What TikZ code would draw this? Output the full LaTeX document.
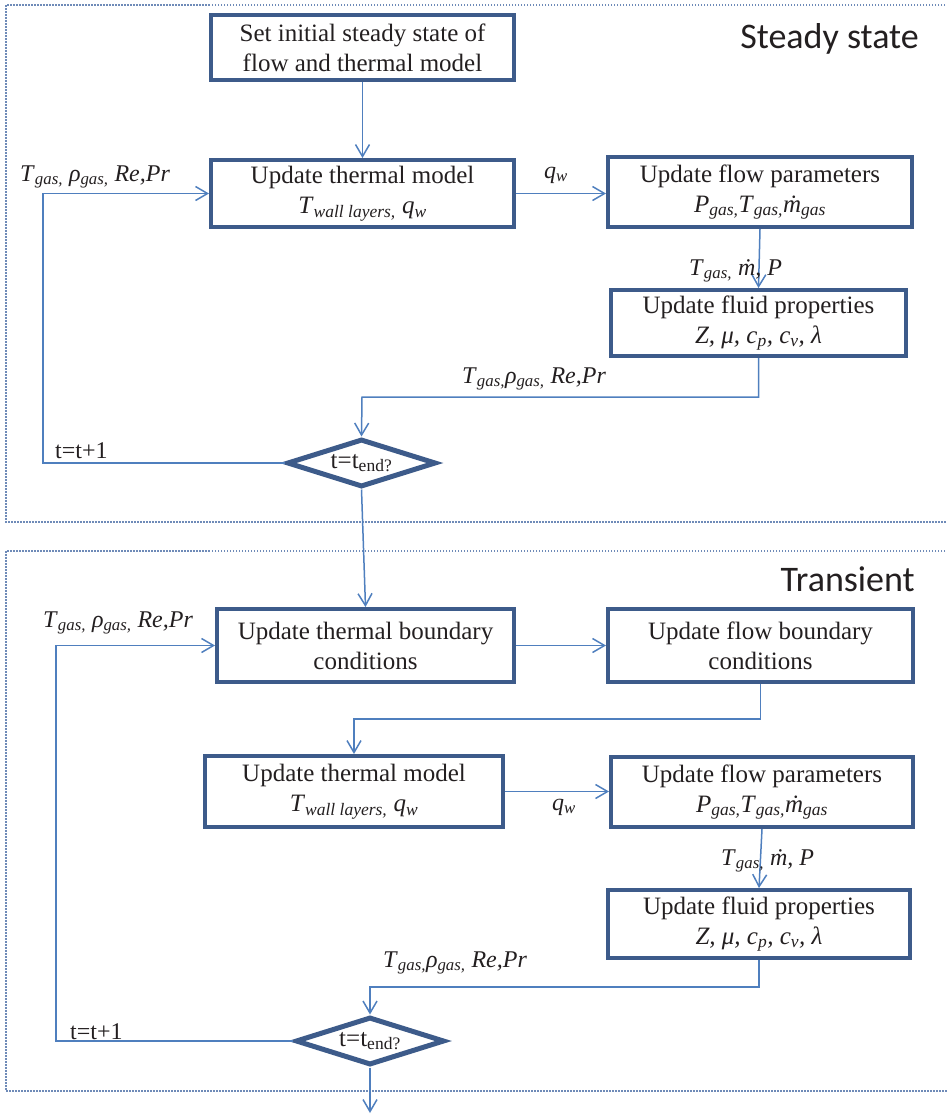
\documentclass[tikz,border=0pt]{standalone}
\usepackage{fontspec}
\setmainfont{Liberation Serif}
\newfontfamily\titlefont{Carlito}
\usetikzlibrary{arrows.meta,shapes.geometric}
\definecolor{boxblue}{HTML}{3D5B8A}
\definecolor{linkblue}{HTML}{4F7FBE}
\definecolor{framegray}{HTML}{6F8BB8}
\definecolor{ink}{HTML}{231F20}
\newcommand{\ivar}[1]{\textit{#1}}
\newcommand{\isub}[1]{\textsubscript{\textit{#1}}}
\tikzset{
  procbox/.style={draw=boxblue, line width=4pt, rectangle, align=center, text=ink,
    inner sep=0pt, font=\fontsize{25}{30}\selectfont},
  decbox/.style={draw=boxblue, line width=5pt, diamond, aspect=3, inner sep=0pt,
    minimum width=149pt, minimum height=48pt, text=ink, font=\fontsize{25}{30}\selectfont},
  conn/.style={draw=linkblue, line width=1.5pt, -{Straight Barb[length=12pt,width=14pt,line width=1.5pt]}},
  plain/.style={draw=linkblue, line width=1.5pt},
  lbl/.style={text=ink, inner sep=0pt, anchor=base west, font=\fontsize{24}{28}\selectfont},
  frame/.style={draw=framegray, line width=1.2pt, dash pattern=on 1.5pt off 1.5pt},
  title/.style={text=ink, inner sep=0pt, anchor=base east, font=\titlefont\fontsize{36}{40}\selectfont}
}
\begin{document}
\begin{tikzpicture}[x=1pt,y=-1pt]
\useasboundingbox (0,0) rectangle (947,1114);
% frames
\draw[frame] (960,5) -- (6,5) -- (6,522) -- (960,522);
\draw[frame] (960,551) -- (6,551) -- (6,1091) -- (960,1091);
\node[title] (tss) at (919,48) {Steady state};
\node[title] (ttr) at (915,591) {Transient};
% steady state
\node[procbox, minimum width=303pt, minimum height=65pt] (b1) at (362.5,47.5) {Set initial steady state of\\flow and thermal model};
\node[procbox, minimum width=303pt, minimum height=67pt] (b2) at (362.5,193.5) {Update thermal model\\\ivar{T}\isub{wall layers,} \ivar{q}\isub{w}};
\node[procbox, minimum width=304pt, minimum height=70pt] (b3) at (760,192) {Update flow parameters\\\ivar{P}\isub{gas,}\ivar{T}\isub{gas,}\ivar{ṁ}\isub{gas}};
\node[procbox, minimum width=295pt, minimum height=66pt] (b4) at (758.5,323) {Update fluid properties\\\ivar{Z, μ, c}\isub{p}\ivar{, c}\isub{v}\ivar{, λ}};
\node[decbox] (d1) at (361.5,463) {\raisebox{-3pt}{t=t\textsubscript{end?}}};
\coordinate (c1) at (43,463);
\coordinate (c3) at (362,397);
\draw[conn] (b1.south) -- (b2.north);
\draw[conn] (d1.west) -- (c1) |- (b2.west);
\draw[conn] (b2.east) -- (b2.east -| b3.west);
\draw[conn] (b3.south) -- (b4.north);
\draw[conn] (b4.south) |- (c3) -- (d1.north);
\node[lbl] (l1) at (20,181) {\ivar{T}\isub{gas,} \ivar{ρ}\isub{gas,} \ivar{Re,Pr}};
\node[lbl] (l2) at (55,458) {t=t+1};
\node[lbl] (l3) at (544,178) {\ivar{q}\isub{w}};
\node[lbl] (l4) at (689,275) {\ivar{T}\isub{gas,} \ivar{ṁ, P}};
\node[lbl] (l5) at (462,383) {\ivar{T}\isub{gas,}\ivar{ρ}\isub{gas,} \ivar{Re,Pr}};
% transient
\node[procbox, minimum width=297pt, minimum height=73pt] (t1) at (365.5,645.5) {Update thermal boundary\\conditions};
\node[procbox, minimum width=305pt, minimum height=73pt] (t2) at (760.5,645.5) {Update flow boundary\\conditions};
\node[procbox, minimum width=298pt, minimum height=71pt] (t3) at (354,791.5) {Update thermal model\\\ivar{T}\isub{wall layers,} \ivar{q}\isub{w}};
\node[procbox, minimum width=302pt, minimum height=70pt] (t4) at (762,792) {Update flow parameters\\\ivar{P}\isub{gas,}\ivar{T}\isub{gas,}\ivar{ṁ}\isub{gas}};
\node[procbox, minimum width=302pt, minimum height=68pt] (t5) at (759,924) {Update fluid properties\\\ivar{Z, μ, c}\isub{p}\ivar{, c}\isub{v}\ivar{, λ}};
\node[decbox] (d2) at (370,1041) {\raisebox{-3pt}{t=t\textsubscript{end?}}};
\coordinate (c4) at (354,719);
\coordinate (c5) at (370,987);
\coordinate (c6) at (56,1041);
\coordinate (c7) at (370,1113);
\draw[conn] (d1.south) -- (t1.north);
\draw[conn] (t1.east) -- (t2.west);
\draw[conn] (t2.south) |- (c4) -- (t3.north);
\draw[conn] (t3.east) -- (t3.east -| t4.west);
\draw[conn] (t4.south) -- (t5.north);
\draw[conn] (t5.south) |- (c5) -- (d2.north);
\draw[conn] (d2.west) -- (c6) |- (t1.west);
\draw[conn] (d2.south) -- (c7);
\node[lbl] (m1) at (43,627) {\ivar{T}\isub{gas,} \ivar{ρ}\isub{gas,} \ivar{Re,Pr}};
\node[lbl] (m2) at (70,1039) {t=t+1};
\node[lbl] (m3) at (552,810) {\ivar{q}\isub{w}};
\node[lbl] (m4) at (721,865) {\ivar{T}\isub{gas,} \ivar{ṁ, P}};
\node[lbl] (m5) at (383,967) {\ivar{T}\isub{gas,}\ivar{ρ}\isub{gas,} \ivar{Re,Pr}};
\end{tikzpicture}
\end{document}
